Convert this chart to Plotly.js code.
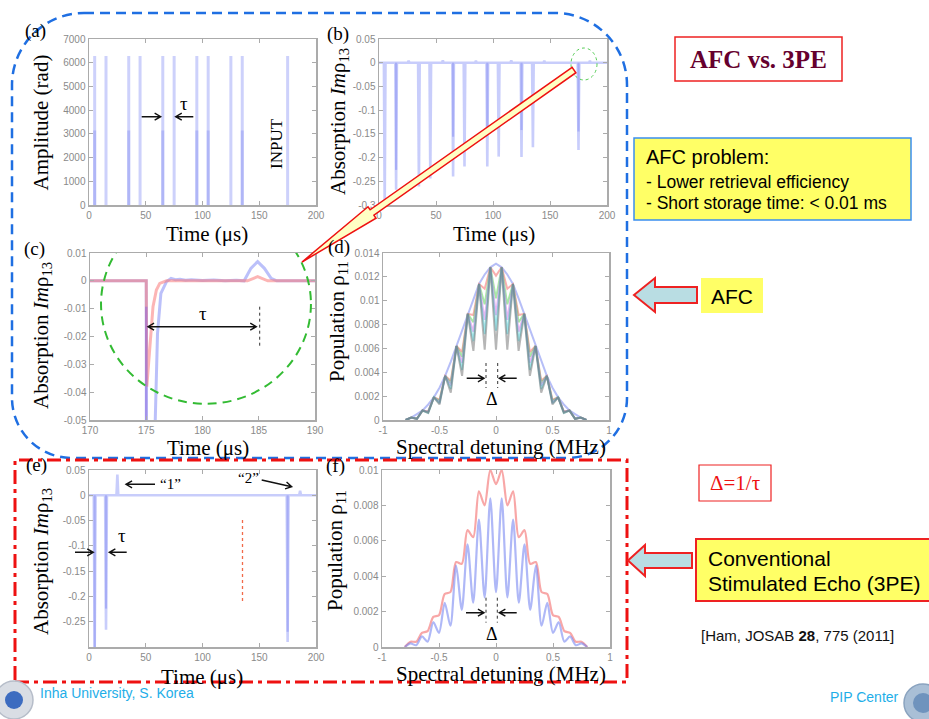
<!DOCTYPE html>
<html>
<head>
<meta charset="utf-8">
<script src="https://cdn.plot.ly/plotly-3.0.1.min.js"></script>
<style>
  html, body { margin: 0; padding: 0; background: #fff; }
  #chart { width: 929px; height: 719px; }
</style>
</head>
<body>
<div id="chart"></div>
<script>
// ---------- (a) input pulse train ----------
const pulseTimes = [5, 15, 35, 45, 65, 75, 95, 105, 125, 135, 175];
const inputAmp = [6283, 6283, 6283, 6283, 6283, 6283, 6283, 6283, 6283, 6283, 6283];
const halfPulseTimes = [5, 35, 65, 95, 105, 135];
const halfPulseAmp = [3142, 3142, 3142, 3142, 3142, 3142];

// ---------- (b) absorption during the pulse train ----------
const absorbDip = [-0.31, -0.268, -0.261, -0.244, -0.240, -0.219, -0.219, -0.198, -0.199, -0.178, -0.184];
const absorbCoreTimes = [15, 65, 95, 125, 175];
const absorbCoreDip = [-0.226, -0.156, -0.149, -0.142, -0.145];
const echoTimes = [26, 56, 85, 116, 145, 185];
const echoAmp = [0.004, 0.005, 0.004, 0.005, 0.004, 0.004];

// ---------- (c) zoom on the last pulse and its echo ----------
const cTimeBlue = [170, 175, 175.01, 175.75, 175.8, 176.0, 176.3, 176.8, 177.2, 177.6, 178.0, 178.5, 179, 180, 181, 182, 183, 183.7, 184.3, 184.9, 185.5, 186.1, 186.6, 190];
const cBlue = [0, 0, -0.06, -0.06, -0.05, -0.019, -0.0045, -0.0003, 0.0009, 0.0004, 0.0006, 0.0002, 0.0004, 0.0001, 0.0003, 0, 0.0002, 0, 0.0045, 0.0069, 0.0045, 0.0009, 0, 0];
const cTimeRed = [170, 175, 175.05, 175.3, 175.6, 175.9, 176.2, 176.8, 184.0, 184.9, 185.8, 190];
const cRed = [0, 0, -0.038, -0.025, -0.0093, -0.0033, -0.0009, 0, 0, 0.0015, 0, 0];
const cCoreTime = [175, 175];
const cCoreVal = [-0.0093, -0.05];

// ---------- (d) population comb, several storage stages ----------
const detX = [-0.8, -0.75, -0.7, -0.65, -0.6, -0.55, -0.5, -0.45, -0.4, -0.35, -0.3, -0.25, -0.2, -0.15, -0.1, -0.05, 0,
              0.05, 0.1, 0.15, 0.2, 0.25, 0.3, 0.35, 0.4, 0.45, 0.5, 0.55, 0.6, 0.65, 0.7, 0.75, 0.8];
const popBlue = [0, 0.0002, 0.0005, 0.0008, 0.0013, 0.0019, 0.0027, 0.0037, 0.0049, 0.0062, 0.0076, 0.0089, 0.0102, 0.0114, 0.0122, 0.0128, 0.0131,
                 0.0128, 0.0122, 0.0114, 0.0102, 0.0089, 0.0076, 0.0062, 0.0049, 0.0037, 0.0027, 0.0019, 0.0013, 0.0008, 0.0005, 0.0002, 0];
const popRed = [0, 0.0002, 0.0001, 0.0008, 0.0007, 0.0019, 0.0017, 0.0037, 0.0033, 0.0062, 0.0057, 0.0089, 0.0088, 0.0114, 0.0110, 0.0128, 0.0121,
                0.0128, 0.0110, 0.0114, 0.0088, 0.0089, 0.0057, 0.0062, 0.0033, 0.0037, 0.0017, 0.0019, 0.0007, 0.0008, 0.0001, 0.0002, 0];
const popGreen = [0, 0.0002, 0.0001, 0.0008, 0.0007, 0.0019, 0.0016, 0.0037, 0.0031, 0.0062, 0.0053, 0.0089, 0.0082, 0.0114, 0.0097, 0.0128, 0.0102,
                  0.0128, 0.0097, 0.0114, 0.0082, 0.0089, 0.0053, 0.0062, 0.0031, 0.0037, 0.0016, 0.0019, 0.0007, 0.0008, 0.0001, 0.0002, 0];
const popMagenta = [0, 0.0002, 0.0001, 0.0008, 0.0007, 0.0019, 0.0015, 0.0037, 0.0029, 0.0062, 0.0048, 0.0089, 0.0074, 0.0114, 0.0084, 0.0128, 0.0088,
                    0.0128, 0.0084, 0.0114, 0.0074, 0.0089, 0.0048, 0.0062, 0.0029, 0.0037, 0.0015, 0.0019, 0.0007, 0.0008, 0.0001, 0.0002, 0];
const popCyan = [0, 0.0002, 0.0001, 0.0008, 0.0006, 0.0019, 0.0014, 0.0037, 0.0026, 0.0062, 0.0042, 0.0089, 0.0066, 0.0114, 0.0072, 0.0128, 0.0075,
                 0.0128, 0.0072, 0.0114, 0.0066, 0.0089, 0.0042, 0.0062, 0.0026, 0.0037, 0.0014, 0.0019, 0.0006, 0.0008, 0.0001, 0.0002, 0];
const popGray = [0, 0.0002, 0.0001, 0.0008, 0.0006, 0.0019, 0.0013, 0.0037, 0.0023, 0.0062, 0.0037, 0.0089, 0.0058, 0.0114, 0.0059, 0.0128, 0.0059,
                 0.0128, 0.0059, 0.0114, 0.0058, 0.0089, 0.0037, 0.0062, 0.0023, 0.0037, 0.0013, 0.0019, 0.0006, 0.0008, 0.0001, 0.0002, 0];

// ---------- (e) stimulated echo absorption ----------
const eEventTimes = [5, 15, 25, 175, 186];
const eEventVals = [-0.31, -0.266, 0.041, -0.29, 0.009];
const eCoreTimes = [5, 15, 175];
const eCoreVals = [-0.31, -0.224, -0.27];

// ---------- (f) population comb, stimulated echo ----------
const fBlue = [0, 0.0002, 0.0001, 0.0006, 0.0003, 0.0014, 0.0008, 0.0025, 0.0012, 0.0046, 0.0021, 0.0058, 0.0025, 0.0072, 0.0028, 0.0084, 0.0031,
               0.0084, 0.0028, 0.0072, 0.0025, 0.0058, 0.0021, 0.0046, 0.0012, 0.0025, 0.0008, 0.0014, 0.0003, 0.0006, 0.0001, 0.0002, 0];
const fRed = [0, 0.0003, 0.0003, 0.0008, 0.0009, 0.0017, 0.0018, 0.0030, 0.0031, 0.0048, 0.0047, 0.0066, 0.0062, 0.0088, 0.0080, 0.0100, 0.0092,
              0.0100, 0.0080, 0.0088, 0.0062, 0.0066, 0.0047, 0.0048, 0.0031, 0.0030, 0.0018, 0.0017, 0.0009, 0.0008, 0.0003, 0.0003, 0];

// ---------- tick labels ----------
const timeTicks = [0, 50, 100, 150, 200];
const timeTickText = ['0', '50', '100', '150', '200'];
const ampTicks = [0, 1000, 2000, 3000, 4000, 5000, 6000, 7000];
const ampTickText = ['0', '1000', '2000', '3000', '4000', '5000', '6000', '7000'];
const absTicks = [0.05, 0, -0.05, -0.1, -0.15, -0.2, -0.25, -0.3];
const absTickText = ['0.05', '0', '-0.05', '-0.1', '-0.15', '-0.2', '-0.25', '-0.3'];
const zoomTimeTicks = [170, 175, 180, 185, 190];
const zoomTimeText = ['170', '175', '180', '185', '190'];
const zoomAbsTicks = [0.01, 0, -0.01, -0.02, -0.03, -0.04, -0.05];
const zoomAbsText = ['0.01', '0', '-0.01', '-0.02', '-0.03', '-0.04', '-0.05'];
const detTicks = [-1, -0.5, 0, 0.5, 1];
const detTickText = ['-1', '-0.5', '0', '0.5', '1'];
const popTicksD = [0, 0.002, 0.004, 0.006, 0.008, 0.01, 0.012, 0.014];
const popTextD = ['0', '0.002', '0.004', '0.006', '0.008', '0.01', '0.012', '0.014'];
const echoAbsTicks = [0.05, 0, -0.05, -0.1, -0.15, -0.2, -0.25];
const echoAbsText = ['0.05', '0', '-0.05', '-0.1', '-0.15', '-0.2', '-0.25'];
const popTicksF = [0, 0.002, 0.004, 0.006, 0.008, 0.01];
const popTextF = ['0', '0.002', '0.004', '0.006', '0.008', '0.01'];

// ---------- helpers ----------
const W = 929, H = 719;
const SERIF = 'Liberation Serif, Times New Roman, serif';
const SANS = 'Liberation Sans, Arial, sans-serif';
const px = x => x / W;
const py = y => 1 - y / H;
const pt = (x, y) => px(x).toFixed(5) + ',' + py(y).toFixed(5);
const xd = (a, b) => [a / W, b / W];
const yd = (top, bottom) => [1 - bottom / H, 1 - top / H];

// baseline with narrow spikes at the given times
function spikeLine(times, vals, x0, x1, hw) {
  const ev = times.map((t, i) => [t, vals[i]]).sort((a, b) => a[0] - b[0]);
  const xs = [x0], ys = [0];
  ev.forEach(([t, v]) => { xs.push(t - hw, t, t + hw); ys.push(0, v, 0); });
  xs.push(x1); ys.push(0);
  return { x: xs, y: ys };
}
// vertical segments from zero
function sticks(times, vals) {
  const xs = [], ys = [];
  times.forEach((t, i) => { xs.push(t, t, null); ys.push(0, vals[i], null); });
  return { x: xs, y: ys };
}

const LIGHT = 'rgba(125,135,245,0.42)';
const DARK = 'rgba(105,115,238,0.35)';
const PINK = 'rgba(250,120,120,0.55)';

const traces = [];
// (a)
let s = sticks(pulseTimes, inputAmp);
traces.push({ x: s.x, y: s.y, xaxis: 'x', yaxis: 'y', mode: 'lines', line: { color: 'rgba(130,140,245,0.4)', width: 3 }, hoverinfo: 'skip' });
s = sticks(halfPulseTimes, halfPulseAmp);
traces.push({ x: s.x, y: s.y, xaxis: 'x', yaxis: 'y', mode: 'lines', line: { color: 'rgba(110,120,240,0.3)', width: 3 }, hoverinfo: 'skip' });
// (b)
s = spikeLine(pulseTimes.concat(echoTimes), absorbDip.concat(echoAmp), 0, 200, 0.7);
traces.push({ x: s.x, y: s.y, xaxis: 'x2', yaxis: 'y2', mode: 'lines', line: { color: LIGHT, width: 2.6 }, hoverinfo: 'skip' });
s = sticks(absorbCoreTimes, absorbCoreDip);
traces.push({ x: s.x, y: s.y, xaxis: 'x2', yaxis: 'y2', mode: 'lines', line: { color: DARK, width: 2.2 }, hoverinfo: 'skip' });
// (c)
traces.push({ x: cTimeBlue, y: cBlue, xaxis: 'x3', yaxis: 'y3', mode: 'lines', line: { color: 'rgba(120,130,245,0.5)', width: 3 }, hoverinfo: 'skip' });
traces.push({ x: cTimeRed, y: cRed, xaxis: 'x3', yaxis: 'y3', mode: 'lines', line: { color: PINK, width: 3 }, hoverinfo: 'skip' });
traces.push({ x: cCoreTime, y: cCoreVal, xaxis: 'x3', yaxis: 'y3', mode: 'lines', line: { color: 'rgba(140,100,220,0.5)', width: 2.5 }, hoverinfo: 'skip' });
// (d)
[[popBlue, 'rgba(110,125,240,0.5)'], [popRed, 'rgba(245,110,110,0.55)'], [popGreen, 'rgba(80,210,80,0.5)'],
 [popMagenta, 'rgba(210,110,230,0.5)'], [popCyan, 'rgba(60,200,210,0.5)'], [popGray, 'rgba(110,110,110,0.5)']]
  .forEach(([vals, col]) => traces.push({ x: detX, y: vals, xaxis: 'x4', yaxis: 'y4', mode: 'lines', line: { color: col, width: 2 }, hoverinfo: 'skip' }));
// (e)
s = spikeLine(eEventTimes, eEventVals, 0, 200, 0.8);
traces.push({ x: s.x, y: s.y, xaxis: 'x5', yaxis: 'y5', mode: 'lines', line: { color: LIGHT, width: 2.6 }, hoverinfo: 'skip' });
s = sticks(eCoreTimes, eCoreVals);
traces.push({ x: s.x, y: s.y, xaxis: 'x5', yaxis: 'y5', mode: 'lines', line: { color: DARK, width: 2.2 }, hoverinfo: 'skip' });
// (f)
traces.push({ x: detX, y: fRed, xaxis: 'x6', yaxis: 'y6', mode: 'lines', line: { color: 'rgba(245,120,120,0.65)', width: 2.2, shape: 'spline', smoothing: 0.8 }, hoverinfo: 'skip' });
traces.push({ x: detX, y: fBlue, xaxis: 'x6', yaxis: 'y6', mode: 'lines', line: { color: 'rgba(110,125,240,0.55)', width: 2.2, shape: 'spline', smoothing: 0.8 }, hoverinfo: 'skip' });

// ---------- axes ----------
const axBase = {
  showline: true, mirror: 'ticks', linecolor: '#ababab', linewidth: 1.5,
  ticks: 'inside', ticklen: 4, tickwidth: 1, tickcolor: '#ababab',
  showgrid: false, zeroline: false, fixedrange: true, tickmode: 'array',
  tickfont: { family: SANS, size: 10, color: '#8a8a8a' }
};
function ax(domain, range, vals, text, anchor) {
  return Object.assign({}, axBase, { domain, range, tickvals: vals, ticktext: text, anchor });
}

// ---------- decorations ----------
const shapes = [];
const annotations = [];

function arrowPath(x0, y0, x1, y1, both) {
  const hl = 7, a = Math.PI / 6;
  const dx = x1 - x0, dy = y1 - y0, L = Math.hypot(dx, dy);
  const ux = dx / L, uy = dy / L;
  const head = (X, Y, vx, vy) => {
    const r1x = vx * Math.cos(a) - vy * Math.sin(a), r1y = vx * Math.sin(a) + vy * Math.cos(a);
    const r2x = vx * Math.cos(-a) - vy * Math.sin(-a), r2y = vx * Math.sin(-a) + vy * Math.cos(-a);
    return ' M ' + pt(X - hl * r1x, Y - hl * r1y) + ' L ' + pt(X, Y) + ' L ' + pt(X - hl * r2x, Y - hl * r2y);
  };
  let p = 'M ' + pt(x0, y0) + ' L ' + pt(x1, y1) + head(x1, y1, ux, uy);
  if (both) p += head(x0, y0, -ux, -uy);
  return p;
}
function arrow(x0, y0, x1, y1, both) {
  shapes.push({ type: 'path', xref: 'paper', yref: 'paper', path: arrowPath(x0, y0, x1, y1, both), line: { color: '#111', width: 1.4 } });
}
function vline(x, y0, y1, color, dash, width) {
  shapes.push({ type: 'line', xref: 'paper', yref: 'paper', x0: px(x), x1: px(x), y0: py(y0), y1: py(y1), line: { color, dash, width } });
}
function rect(x0, y0, x1, y1, fill, border, width, dash) {
  shapes.push({ type: 'rect', xref: 'paper', yref: 'paper', x0: px(x0), x1: px(x1), y0: py(y1), y1: py(y0),
    fillcolor: fill, line: { color: border, width: width, dash: dash || 'solid' } });
}
function polygon(points, fill, border, width) {
  const p = points.map((q, i) => (i ? 'L ' : 'M ') + pt(q[0], q[1])).join(' ') + ' Z';
  shapes.push({ type: 'path', xref: 'paper', yref: 'paper', path: p, fillcolor: fill, line: { color: border, width } });
}
function text(t, x, y, size, opts) {
  annotations.push(Object.assign({
    text: t, xref: 'paper', yref: 'paper', x: px(x), y: py(y), showarrow: false,
    xanchor: 'center', yanchor: 'middle', font: { family: SERIF, size, color: '#000' }
  }, opts || {}));
}

// dashed rounded frame around the AFC panels
(function () {
  const x0 = 12, x1 = 627, y0 = 13, y1 = 458, rt = 72, rb = 60, k = 0.5523;
  const p = 'M ' + pt(x0 + rt, y0) + ' L ' + pt(x1 - rt, y0) +
    ' C ' + pt(x1 - rt + rt * k, y0) + ' ' + pt(x1, y0 + rt - rt * k) + ' ' + pt(x1, y0 + rt) +
    ' L ' + pt(x1, y1 - rb) +
    ' C ' + pt(x1, y1 - rb + rb * k) + ' ' + pt(x1 - rb + rb * k, y1) + ' ' + pt(x1 - rb, y1) +
    ' L ' + pt(x0 + rb, y1) +
    ' C ' + pt(x0 + rb - rb * k, y1) + ' ' + pt(x0, y1 - rb + rb * k) + ' ' + pt(x0, y1 - rb) +
    ' L ' + pt(x0, y0 + rt) +
    ' C ' + pt(x0, y0 + rt - rt * k) + ' ' + pt(x0 + rt - rt * k, y0) + ' ' + pt(x0 + rt, y0) + ' Z';
  shapes.push({ type: 'path', xref: 'paper', yref: 'paper', path: p, line: { color: '#1f6fe2', width: 2.5, dash: '10px,6px' } });
})();

// dash-dot frame around the stimulated echo panels
rect(15, 460, 627, 682, 'rgba(0,0,0,0)', '#ee1111', 3, '14px,5px,4px,5px');

// green circles
shapes.push({ type: 'circle', xref: 'x3', yref: 'y3', x0: 170.98, x1: 189.64, y0: -0.0442, y1: 0.0276,
  line: { color: '#33bb33', width: 2, dash: '9px,6px' } });
shapes.push({ type: 'circle', xref: 'paper', yref: 'paper', x0: px(571), x1: px(597), y0: py(80), y1: py(48),
  line: { color: '#55cc55', width: 1, dash: 'dot' } });

// pointer from (b) to (c)
polygon([[572.1, 67.3], [370.1, 209.8], [368.0, 206.8], [302, 262], [376.0, 218.2], [373.9, 215.2], [575.9, 72.7]],
  '#ffffc4', '#ee1111', 1.5);

// (a) tau arrows and labels
arrow(141.7, 116.7, 160.7, 116.7);
arrow(193.3, 116.7, 175.7, 116.7);
text('τ', 184.3, 103.3, 19);
text('INPUT', 276.7, 143.3, 17, { textangle: -90 });

// (c) echo delay
arrow(148, 326.7, 256.3, 326.7, true);
vline(259.7, 306.7, 346.7, '#333', 'dot', 1);
text('τ', 203, 313.3, 19);

// (d) comb spacing
vline(486, 363, 388, '#333', 'dot', 1);
vline(497.7, 363, 388, '#333', 'dot', 1);
arrow(466.7, 378.3, 484, 378.3);
arrow(516.7, 378.3, 499.3, 378.3);
text('Δ', 492.3, 399.3, 18);

// (e) pulse spacing and echoes
arrow(75, 552.3, 93.3, 552.3);
arrow(126.7, 552.3, 109.3, 552.3);
text('τ', 121.7, 535, 19);
arrow(155, 484.3, 126, 484.3);
text('“1”', 170, 484.3, 15);
arrow(261.7, 480, 291.7, 486.7);
text('“2”', 248.3, 477.7, 15);
vline(242.5, 520, 603.3, '#f26a4a', '3px,3px', 1.3);

// (f) comb spacing
vline(486, 597.7, 622.7, '#333', 'dot', 1);
vline(497.3, 597.7, 622.7, '#333', 'dot', 1);
arrow(466, 612.7, 484, 612.7);
arrow(516.7, 612.7, 499.3, 612.7);
text('Δ', 492.3, 634.3, 18);

// panel letters
text('(a)', 35, 31, 19);
text('(b)', 338, 34, 19);
text('(c)', 34, 249, 19);
text('(d)', 338.5, 247, 19);
text('(e)', 36, 465, 19);
text('(f)', 335, 466, 19);

// axis titles
const absTitle = 'Absorption <i>Im</i>ρ<sub>13</sub>';
const popTitle = 'Population ρ<sub>11</sub>';
text('Amplitude (rad)', 40, 122.5, 21, { textangle: -90 });
text(absTitle, 339, 122, 21, { textangle: -90 });
text(absTitle, 42, 336, 21, { textangle: -90 });
text(popTitle, 338, 322, 21, { textangle: -90 });
text(absTitle, 42, 562, 21, { textangle: -90 });
text(popTitle, 336, 551, 21, { textangle: -90 });
text('Time (μs)', 206.7, 234, 21);
text('Time (μs)', 494, 234, 21);
text('Time (μs)', 207.5, 448, 21);
text('Spectral detuning (MHz)', 501, 447, 21);
text('Time (μs)', 201.7, 677, 21);
text('Spectral detuning (MHz)', 501, 674, 21);

// right-hand notes
rect(675, 37, 842, 81, '#ffffff', '#ee2222', 1.5);
text('<b>AFC vs. 3PE</b>', 758.5, 59, 25, { font: { family: SERIF, size: 25, color: '#66002e' } });

rect(634, 138, 911, 220, '#ffff66', '#3a8ef0', 1.5);
text('AFC problem:', 644, 156.7, 20, { xanchor: 'left', font: { family: SANS, size: 20, color: '#000' } });
text('- Lower retrieval efficiency', 644, 181.7, 17.5, { xanchor: 'left', font: { family: SANS, size: 17.5, color: '#000' } });
text('- Short storage time: < 0.01 ms', 644, 202.7, 17.5, { xanchor: 'left', font: { family: SANS, size: 17.5, color: '#000' } });

polygon([[634, 295], [655, 278], [655, 287], [697, 287], [697, 303], [655, 303], [655, 312]], '#b9dde3', '#ee2222', 2);
rect(701, 278, 763, 313, '#ffff66', 'rgba(0,0,0,0)', 0);
text('AFC', 732, 296, 21, { font: { family: SANS, size: 21, color: '#000' } });

rect(699, 465, 771, 501, '#ffffff', '#ee2222', 1.2);
text('Δ=1/τ', 735, 483, 21, { font: { family: SERIF, size: 21, color: '#ee1111' } });

polygon([[628, 560.5], [645, 545], [645, 553], [692, 553], [692, 568], [645, 568], [645, 576]], '#b9dde3', '#ee2222', 2);
rect(696, 539, 931, 601, '#ffff66', '#ee2222', 2);
text('Conventional', 706, 558, 21, { xanchor: 'left', font: { family: SANS, size: 21, color: '#000' } });
text('Stimulated Echo (3PE)', 706, 583, 21, { xanchor: 'left', font: { family: SANS, size: 21, color: '#000' } });

text('[Ham, JOSAB <b>28</b>, 775 (2011]', 699, 635, 15, { xanchor: 'left', font: { family: SANS, size: 15, color: '#111' } });

// footer
shapes.push({ type: 'circle', xref: 'paper', yref: 'paper', x0: px(-5), x1: px(33), y0: py(719), y1: py(681),
  fillcolor: '#d9dde4', line: { color: '#b6bdc9', width: 1.5 } });
shapes.push({ type: 'circle', xref: 'paper', yref: 'paper', x0: px(5), x1: px(23), y0: py(709), y1: py(691),
  fillcolor: '#3d6cc0', line: { color: '#3d6cc0', width: 0 } });
shapes.push({ type: 'circle', xref: 'paper', yref: 'paper', x0: px(904), x1: px(942), y0: py(722), y1: py(684),
  fillcolor: '#a9bfd6', line: { color: '#8aa3bf', width: 1.5 } });
shapes.push({ type: 'circle', xref: 'paper', yref: 'paper', x0: px(913), x1: px(933), y0: py(713), y1: py(693),
  fillcolor: '#6f93bd', line: { color: '#6f93bd', width: 0 } });
text('Inha University, S. Korea', 38, 693, 14, { xanchor: 'left', font: { family: SANS, size: 14, color: '#1eaee8' } });
text('PIP Center', 828, 697, 14, { xanchor: 'left', font: { family: SANS, size: 14, color: '#1eaee8' } });

const layout = {
  width: W, height: H, autosize: false,
  margin: { l: 0, r: 0, t: 0, b: 0, pad: 0 },
  paper_bgcolor: '#ffffff', plot_bgcolor: '#ffffff', showlegend: false,
  xaxis: ax(xd(89, 316), [0, 200], timeTicks, timeTickText, 'y'),
  yaxis: ax(yd(39, 205), [0, 7000], ampTicks, ampTickText, 'x'),
  xaxis2: ax(xd(379, 607), [0, 200], timeTicks, timeTickText, 'y2'),
  yaxis2: ax(yd(39, 205), [-0.3, 0.05], absTicks, absTickText, 'x2'),
  xaxis3: ax(xd(90, 315), [170, 190], zoomTimeTicks, zoomTimeText, 'y3'),
  yaxis3: ax(yd(253, 420), [-0.05, 0.01], zoomAbsTicks, zoomAbsText, 'x3'),
  xaxis4: ax(xd(383, 609), [-1, 1], detTicks, detTickText, 'y4'),
  yaxis4: ax(yd(253, 420), [0, 0.014], popTicksD, popTextD, 'x4'),
  xaxis5: ax(xd(89, 316), [0, 200], timeTicks, timeTickText, 'y5'),
  yaxis5: ax(yd(470, 647), [-0.3, 0.05], echoAbsTicks, echoAbsText, 'x5'),
  xaxis6: ax(xd(382, 610), [-1, 1], detTicks, detTickText, 'y6'),
  yaxis6: ax(yd(470, 647), [0, 0.01], popTicksF, popTextF, 'x6'),
  shapes, annotations
};

Plotly.newPlot('chart', traces, layout, { staticPlot: true, displayModeBar: false });
</script>
</body>
</html>
